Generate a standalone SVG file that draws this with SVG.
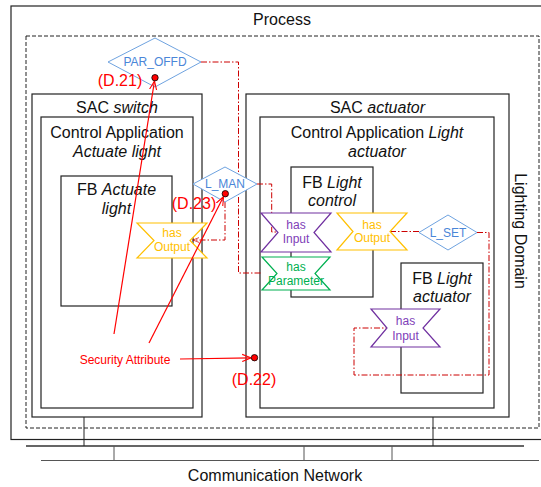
<svg xmlns="http://www.w3.org/2000/svg" width="541" height="487" viewBox="0 0 541 487">
<style>
.box{fill:none;stroke:#222;stroke-width:1.2}
.t{font-family:"Liberation Sans",Arial,sans-serif;font-size:16px;fill:#111;text-anchor:middle}
.s{font-family:"Liberation Sans",Arial,sans-serif;font-size:12px;text-anchor:middle}
.i{font-style:italic}
.dia{fill:#fff;stroke:#6FA3E0;stroke-width:1}
.dt{fill:#4A86D8}
.port{fill:#fff;stroke-width:1.2}
.out{stroke:#FFC000}
.outt{fill:#FFC000}
.inp{stroke:#7030A0}
.inpt{fill:#8040B8}
.par{stroke:#00B050}
.part{fill:#00B050}
.dd{fill:none;stroke:#CC0000;stroke-width:1;stroke-dasharray:6 2 1.5 2}
.red{fill:none;stroke:#FF0000;stroke-width:1.2}
.rt{fill:#FF0000;font-family:"Liberation Sans",Arial,sans-serif;text-anchor:middle}
.dot{fill:#FF0000;stroke:#000;stroke-width:0.8}
.bus{stroke:#666;stroke-width:2;fill:none}
.wire{stroke:#222;stroke-width:1;fill:none}
.wire2{stroke:#555;stroke-width:1;fill:none}
</style>
<defs>
<marker id="ah" viewBox="0 0 10 10" refX="10" refY="5" markerWidth="9" markerHeight="9" orient="auto" markerUnits="userSpaceOnUse">
<path d="M0,1 L10,5 L0,9" fill="none" stroke="#FF0000" stroke-width="1.2"/>
</marker>
<marker id="ahs" viewBox="0 0 10 10" refX="10" refY="5" markerWidth="6" markerHeight="6" orient="auto" markerUnits="userSpaceOnUse">
<path d="M0,1 L10,5 L0,9" fill="none" stroke="#CC0000" stroke-width="1.2"/>
</marker>
</defs>
<rect width="541" height="487" fill="#fff"/>

<g id="process">
<rect class="box" x="11" y="6" width="545" height="433.5"/>
<text class="t" x="282" y="25">Process</text>
</g>

<g id="lighting-domain">
<rect x="26" y="36" width="513" height="392" fill="none" stroke="#222" stroke-width="1" stroke-dasharray="4 2"/>
<text class="t" transform="translate(515,231) rotate(90)" x="0" y="0">Lighting Domain</text>
</g>

<g id="sac-switch">
<rect class="box" x="32" y="94" width="170" height="323"/>
<text class="t" x="117" y="112.5">SAC <tspan class="i">switch</tspan></text>
</g>
<g id="ca-actuate-light">
<rect class="box" x="41" y="117" width="152" height="291"/>
<text class="t" x="117" y="137.5">Control Application</text>
<text class="t i" x="117" y="157">Actuate light</text>
</g>
<g id="fb-actuate-light">
<rect class="box" x="61" y="176" width="111" height="130"/>
<text class="t" x="116.5" y="195">FB <tspan class="i">Actuate</tspan></text>
<text class="t i" x="116.5" y="214">light</text>
</g>

<g id="sac-actuator">
<rect class="box" x="246" y="94" width="263" height="323"/>
<text class="t" x="377.5" y="112.5">SAC <tspan class="i">actuator</tspan></text>
</g>
<g id="ca-light-actuator">
<rect class="box" x="260" y="117" width="234" height="291"/>
<text class="t" x="377" y="137.5">Control Application <tspan class="i">Light</tspan></text>
<text class="t i" x="377" y="157">actuator</text>
</g>
<g id="fb-light-control">
<rect class="box" x="291" y="167" width="82" height="130"/>
<text class="t" x="332" y="187.5">FB <tspan class="i">Light</tspan></text>
<text class="t i" x="332" y="206">control</text>
</g>
<g id="fb-light-actuator">
<rect class="box" x="401" y="263" width="82" height="130"/>
<text class="t" x="442" y="283.5">FB <tspan class="i">Light</tspan></text>
<text class="t i" x="442" y="302">actuator</text>
</g>

<g id="network">
<path class="bus" d="M26,446 H524"/>
<path class="wire2" d="M41,460.5 H539"/>
<path class="wire" d="M84,417 V446 M433,417 V446"/>
<path class="wire2" d="M114,446 V460 M304,446 V460 M392,446 V460"/>
<text class="t" x="275" y="481">Communication Network</text>
</g>

<g id="connectors">
<path class="dd" d="M201,62 H238.5 V273 H262"/>
<path class="dd" d="M257,184 H271.7 V232 H278"/>
<path class="dd" d="M225,202 V240 H193" marker-end="url(#ahs)"/>
<path class="dd" d="M390,231.5 H419"/>
<path class="dd" d="M477,232.5 H489 V375 H354 V328 H387"/>
</g>

<g id="port-output-actuate">
<polygon class="port out" points="137,223 207,223 190,240.5 207,258 137,258 154,240.5"/>
<text class="s outt" x="172" y="237">has</text>
<text class="s outt" x="172" y="251">Output</text>
</g>
<g id="port-input-control">
<polygon class="port inp" points="261,213 331,213 314,232.5 331,252 261,252 278,232.5"/>
<text class="s inpt" x="296" y="228.5">has</text>
<text class="s inpt" x="296" y="242.5">Input</text>
</g>
<g id="port-output-control">
<polygon class="port out" points="337,213 407,213 390,231.5 407,250 337,250 353,231.5"/>
<text class="s outt" x="372" y="228.5">has</text>
<text class="s outt" x="372" y="241.5">Output</text>
</g>
<g id="port-parameter-control">
<polygon class="port par" points="262,257 330,257 315,273.5 330,290 262,290 277,273.5"/>
<text class="s part" x="296" y="270.5">has</text>
<text class="s part" x="296" y="284.5">Parameter</text>
</g>
<g id="port-input-actuator">
<polygon class="port inp" points="371,309 440,309 423,328 440,347 371,347 387,328"/>
<text class="s inpt" x="405.5" y="325">has</text>
<text class="s inpt" x="405.5" y="339.5">Input</text>
</g>

<g id="par-offd">
<polygon class="dia" points="155,38 201,62 155,87 108,62"/>
<text class="s dt" x="155" y="66.3">PAR_OFFD</text>
</g>
<g id="l-man">
<polygon class="dia" points="225,167 257,184 225,202 193,184"/>
<text class="s dt" x="225" y="188.3">L_MAN</text>
</g>
<g id="l-set">
<polygon class="dia" points="448,215 477,232.5 448,250 419,232.5"/>
<text class="s dt" x="448" y="236.8">L_SET</text>
</g>

<g id="security-attribute">
<path class="red" d="M114,334 L154.5,81" marker-end="url(#ah)"/>
<path class="red" d="M149,343 L223.6,196.6" marker-end="url(#ah)"/>
<path class="red" d="M180,359 L251.2,357.8" marker-end="url(#ah)"/>
<circle class="dot" cx="155" cy="77.7" r="3.2"/>
<circle class="dot" cx="225.3" cy="193.7" r="3.2"/>
<circle class="dot" cx="254.5" cy="357.7" r="3.2"/>
<text class="rt" x="125" y="364.3" font-size="12">Security Attribute</text>
<text class="rt" x="120" y="85.8" font-size="16">(D.21)</text>
<text class="rt" x="194" y="209" font-size="16">(D.23)</text>
<text class="rt" x="254" y="385" font-size="16">(D.22)</text>
</g>
</svg>
